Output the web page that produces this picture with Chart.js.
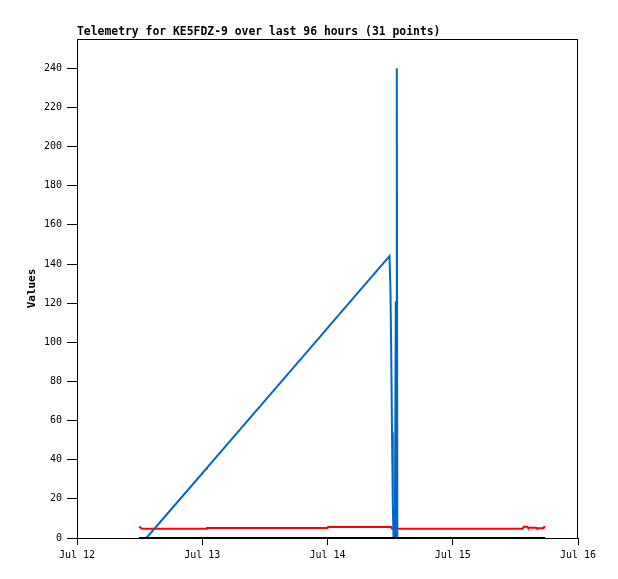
<!DOCTYPE html>
<html>
<head>
<meta charset="utf-8">
<script src="https://cdn.jsdelivr.net/npm/chart.js@4/dist/chart.umd.min.js"></script>
<style>
html, body { margin: 0; padding: 0; background: #fff; }
</style>
</head>
<body>
<canvas id="TelemetryChart" width="618" height="579"></canvas>
<script>
// hours since Jul 12 00:00
var hours = [11.9, 12.4, 13.3, 24.8, 24.9, 48.0, 48.1, 59.88, 60.07, 60.23,
             60.36, 60.51, 60.65, 60.9, 61.09, 61.18, 61.28, 61.38, 61.6, 66.0,
             72.0, 78.0, 85.4, 85.6, 86.3, 86.4, 88.0, 88.1, 89.4, 89.5, 89.7];

var blueVals = [0, 0, 0, 35.5, 35.9, 107.3, 107.6, 144, 126, 90,
                54, 18, 0, 0, 121, 0, 240, 0, 0, 0,
                0, 0, 0, 0, 0, 0, 0, 0, 0, 0, 0];

var redVals = [5.8, 4.8, 4.75, 4.75, 5.1, 5.1, 5.6, 5.6, 5.6, 5.6,
               4.7, 4.7, 4.7, 4.7, 4.7, 4.7, 4.7, 4.7, 4.7, 4.7,
               4.7, 4.7, 4.7, 5.7, 5.7, 5.3, 5.3, 5.0, 5.0, 5.6, 5.6];

var blackVals = [0, 0, 0, 0, 0, 0, 0, 0, 0, 0,
                 0, 0, 0, 0, 0, 0, 0, 0, 0, 0,
                 0, 0, 0, 0, 0, 0, 0, 0, 0, 0, 0];

var dayLabels = ['Jul 12', 'Jul 13', 'Jul 14', 'Jul 15', 'Jul 16'];
var yTicks = [0, 20, 40, 60, 80, 100, 120, 140, 160, 180, 200, 220, 240];

var chartTitle = 'Telemetry for KE5FDZ-9 over last 96 hours (31 points)';
var yTitle = 'Values';

function pts(vals) {
    return hours.map(function (h, i) { return { x: h, y: vals[i] }; });
}

var monoFont = { family: 'DejaVu Sans Mono', size: 10 };

// frame + titles
var framePlugin = {
    id: 'frame',
    afterDraw: function (chart) {
        var c = chart.ctx, a = chart.chartArea;
        c.save();
        c.strokeStyle = '#000';
        c.lineWidth = 1;
        c.strokeRect(Math.round(a.left) + 0.5, Math.round(a.top) + 0.5,
                     Math.round(a.right - a.left) - 1, Math.round(a.bottom - a.top));
        c.fillStyle = '#000';
        c.font = 'bold 11.4px "DejaVu Sans Mono"';
        c.textBaseline = 'alphabetic';
        c.textAlign = 'left';
        c.fillText(chartTitle, a.left, 35);
        c.translate(35, (a.top + a.bottom) / 2);
        c.rotate(-Math.PI / 2);
        c.textAlign = 'center';
        c.font = 'bold 11px "DejaVu Sans Mono"';
        c.fillText(yTitle, 0, 0);
        c.restore();
    }
};

var data = {
    datasets: [
        { label: 'black', data: pts(blackVals), borderColor: '#000000', borderWidth: 2 },
        { label: 'blue', data: pts(blueVals), borderColor: '#0066cc', borderWidth: 2 },
        { label: 'red', data: pts(redVals), borderColor: '#ff0000', borderWidth: 2 }
    ]
};

var options = {
    responsive: false,
    animation: false,
    layout: { padding: { left: 0, top: 39, right: 40, bottom: 0 } },
    elements: { point: { radius: 0 }, line: { tension: 0 } },
    plugins: { legend: { display: false }, title: { display: false }, tooltip: { enabled: false } },
    scales: {
        x: {
            type: 'linear',
            min: 0,
            max: 96,
            afterFit: function (s) { s.height = 41; },
            afterBuildTicks: function (s) {
                s.ticks = dayLabels.map(function (l, i) { return { value: i * 24 }; });
            },
            ticks: {
                color: '#000',
                font: monoFont,
                padding: 4,
                maxRotation: 0,
                autoSkip: false,
                callback: function (v) { return dayLabels[v / 24]; }
            },
            grid: { display: true, drawOnChartArea: false, drawTicks: true, tickLength: 7, color: '#000' },
            border: { display: true, color: '#000' }
        },
        y: {
            min: 0,
            max: 255,
            afterFit: function (s) { s.width = 77; },
            afterBuildTicks: function (s) {
                s.ticks = yTicks.map(function (v) { return { value: v }; });
            },
            ticks: { color: '#000', font: monoFont, padding: 5 },
            grid: { display: true, drawOnChartArea: false, drawTicks: true, tickLength: 10, color: '#000' },
            border: { display: true, color: '#000' }
        }
    }
};

var chart = new Chart(document.getElementById('TelemetryChart'), {
    type: 'line',
    data: data,
    options: options,
    plugins: [framePlugin]
});
</script>
</body>
</html>
